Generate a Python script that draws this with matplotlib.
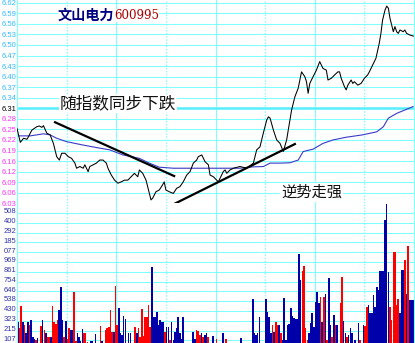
import matplotlib
matplotlib.use('Agg')
import matplotlib.pyplot as plt
from matplotlib.transforms import ScaledTranslation
import numpy as np

plt.rcParams['font.family'] = ['Noto Sans CJK SC', 'DejaVu Sans']

# axis labels (previous close 6.31, one grid step = 0.031 yuan / 107.7 lots)
prev_close = 6.31
price_step = 0.031
price_labels = ['6.62', '6.59', '6.56', '6.53', '6.50', '6.47', '6.43', '6.40', '6.37', '6.34',
                '6.31', '6.28', '6.25', '6.22', '6.19', '6.16', '6.12', '6.09', '6.06', '6.03']
vol_step = 107.7
vol_labels = ['107', '215', '323', '430', '538', '646', '754', '861', '969', '077', '185', '292',
              '400', '508']

# intraday price, minute -> price
price_min = [0, 2, 4, 6, 7, 8, 9, 12, 13.5, 15, 16, 18, 20, 22, 24, 25.6, 27, 29, 31, 33, 35, 36,
             38, 40, 41, 43, 44, 46, 48, 50, 52, 54, 55, 57, 59, 61, 63, 65, 67, 69, 71, 73, 74,
             76, 78, 80, 81, 82, 84, 86, 88, 89, 90, 92, 94.5, 96.5, 98.5, 100.5, 102.6, 104.6,
             106.6, 108.6, 109.6, 111.7, 113.7, 115.7, 116.7, 118.7, 120.7, 121.7, 122.7, 124.7,
             125.8, 126.8, 128.8, 130.8, 134.8, 138.9, 142.9, 144.9, 146.9, 148.9, 151, 152, 153,
             155, 157, 159, 161, 163, 164, 165, 166, 168, 170, 172, 174, 175, 176, 177, 179, 181,
             183, 184, 185, 187, 188, 190, 192, 194, 195, 196, 198, 199, 200, 202, 203, 204, 206,
             208, 210, 212, 213, 215, 217, 219, 220, 221, 222.5, 223.5, 224.5, 225.5, 227.5,
             228.5, 229.5, 230.5, 231.5, 233.5, 234.5, 235.5, 237.6, 239.6]
price_val = [6.251, 6.210, 6.222, 6.219, 6.227, 6.237, 6.246, 6.256, 6.258, 6.254, 6.259, 6.237,
             6.232, 6.207, 6.168, 6.158, 6.178, 6.178, 6.168, 6.163, 6.149, 6.134, 6.139, 6.134,
             6.144, 6.124, 6.139, 6.144, 6.149, 6.158, 6.158, 6.149, 6.134, 6.114, 6.099, 6.090,
             6.094, 6.099, 6.099, 6.109, 6.119, 6.109, 6.129, 6.119, 6.099, 6.060, 6.041, 6.046,
             6.065, 6.070, 6.085, 6.094, 6.070, 6.065, 6.060, 6.075, 6.080, 6.094, 6.114, 6.124,
             6.149, 6.158, 6.168, 6.173, 6.153, 6.144, 6.114, 6.109, 6.099, 6.094, 6.104, 6.124,
             6.129, 6.119, 6.129, 6.134, 6.139, 6.134, 6.149, 6.188, 6.197, 6.237, 6.276, 6.285,
             6.281, 6.246, 6.217, 6.207, 6.183, 6.217, 6.246, 6.276, 6.305, 6.344, 6.369, 6.417,
             6.403, 6.388, 6.354, 6.383, 6.403, 6.422, 6.447, 6.437, 6.427, 6.422, 6.393, 6.398,
             6.408, 6.417, 6.417, 6.398, 6.373, 6.364, 6.378, 6.393, 6.383, 6.388, 6.378, 6.383,
             6.398, 6.408, 6.417, 6.437, 6.457, 6.501, 6.530, 6.569, 6.599, 6.610, 6.604, 6.574,
             6.535, 6.550, 6.535, 6.530, 6.540, 6.535, 6.540, 6.530, 6.525, 6.522]

# average price line
avg_min = [0, 8, 16, 20, 24, 30, 40, 50, 56, 64, 74, 80, 86, 94.5, 104.6, 120.7, 134.8, 142.7,
           149, 153, 159, 165, 170, 173, 179, 185, 191, 199, 209, 217.5, 221.5, 224.5, 229.5,
           234.5, 239.4]
avg_val = [6.229, 6.229, 6.235, 6.232, 6.222, 6.212, 6.202, 6.193, 6.188, 6.173, 6.163, 6.149,
           6.137, 6.134, 6.134, 6.134, 6.134, 6.138, 6.139, 6.149, 6.149, 6.150, 6.158, 6.183,
           6.190, 6.207, 6.217, 6.225, 6.232, 6.241, 6.256, 6.281, 6.295, 6.305, 6.315]

# hand drawn trend lines (minute, price)
trend_down = ([23, 95], [6.269, 6.111])
trend_up = ([95, 168], [6.029, 6.205])

# per-minute volume, r = up, b = down
volume = [312, 243, 484, 312, 276, 191, 312, 276, 330, 147, 122, 111, 130, 60, 265, 330, 221, 188, 147, 147,
          147, 484, 312, 283, 330, 440, 690, 330, 140, 323, 120, 246, 221, 221, 634, 100, 191, 147, 100, 228,
          188, 188, 90, 60, 100, 95, 60, 175, 60, 60, 265, 95, 60, 221, 243, 257, 440, 202, 202, 703,
          276, 465, 188, 170, 374, 338, 80, 191, 190, 70, 70, 257, 188, 243, 147, 448, 155, 367, 360, 495,
          257, 915, 367, 360, 421, 276, 330, 312, 312, 202, 257, 250, 110, 312, 110, 202, 246, 360, 188, 120,
          360, 60, 60, 60, 60, 60, 202, 120, 221, 213, 166, 185, 147, 166, 185, 147, 60, 60, 160, 60,
          119, 60, 60, 60, 185, 60, 119, 60, 60, 60, 60, 60, 60, 60, 60, 130, 60, 60, 60, 60,
          60, 60, 557, 185, 166, 191, 367, 60, 60, 60, 557, 421, 367, 185, 276, 202, 312, 276, 276, 191,
          110, 568, 110, 276, 287, 459, 374, 349, 340, 345, 1054, 769, 871, 923, 239, 110, 185, 294, 404, 257,
          531, 641, 514, 586, 312, 580, 616, 110, 788, 276, 147, 385, 276, 276, 60, 520, 805, 323, 185, 147,
          166, 239, 185, 60, 110, 60, 294, 110, 60, 276, 265, 476, 495, 404, 410, 605, 476, 696, 659, 871,
          871, 871, 1435, 1610, 860, 476, 330, 1080, 1080, 495, 557, 404, 879, 879, 988, 616, 1142, 550, 550, 550]
vol_dir = ('brrbrbbrbbbrbbrbrbrr'
           'brrrrbbbrbrrbbrrbbbb'
           'rrrbbbbbbbrbbrrrrrbr'
           'rbbbbbbbbbbrbrrrrrrr'
           'rbbbbbbbbrbbrbbbbbbb'
           'bbbbbbbbrrrbrbbrbbbb'
           'rbbbbbrbbbbbbbbbbbbb'
           'bbbbbbbbbbbbbbrbrrbr'
           'bbbbbbbbbbbbrrrrbbbb'
           'bbbrbrbrbbrbrbbrrbbr'
           'bbbbbbbrbbrrbbbbbbbb'
           'bbbbbrrrrrrbbbrbrbbb')

grid_c = '#80ffff'
W, H = 415, 343
fig = plt.figure(figsize=(W / 100, H / 100), dpi=100)
x0, x1 = 17, 414
split = 203.3
ax = fig.add_axes([x0 / W, (H - split) / H, (x1 - x0) / W, split / H])
vax = fig.add_axes([x0 / W, 0, (x1 - x0) / W, (H - split) / H])

price_ticks = prev_close + price_step * np.arange(10, -10, -1)
vol_ticks = vol_step * np.arange(1, 15)

for a in (ax, vax):
    a.set_xlim(0, 240)
    a.set_xticks([])
    for s in ('top', 'bottom'):
        a.spines[s].set_visible(False)
    for s in ('left', 'right'):
        a.spines[s].set_color(grid_c)
        a.spines[s].set_linewidth(0.8)
    for m in (60, 120, 180):
        a.axvline(m, color=grid_c, lw=0.75, zorder=0)
    for m in (30, 90, 150, 210):
        a.axvline(m, color=grid_c, lw=0.75, ls=(0, (1.5, 1.5)), zorder=0)
    a.tick_params(axis='y', length=0, pad=0.6, labelsize=5.5)

ax.set_ylim(6.031, 6.628)
ax.set_yticks(price_ticks)
ax.set_yticklabels(price_labels, family='Liberation Sans')
for t, lab in zip(ax.get_yticklabels(), price_labels):
    v = float(lab)
    t.set_color('#000000' if v == prev_close else ('#33bbff' if v > prev_close else '#ff33ff'))
for p in price_ticks:
    if abs(p - prev_close) < 1e-6:
        ax.axhline(p, color='#55eeff', lw=1.8, zorder=0)
    else:
        ax.axhline(p, color=grid_c, lw=0.75, zorder=0, clip_on=False)

vax.set_ylim(78, 15 * vol_step)
vax.set_yticks(vol_ticks)
vax.set_yticklabels(vol_labels, family='Liberation Sans', color='#3333aa')
# volume labels sit a little above their lines
lift = ScaledTranslation(0, 1.6 / 72, fig.dpi_scale_trans)
for t in vax.get_yticklabels():
    t.set_transform(t.get_transform() + lift)
for v in vol_ticks:
    vax.axhline(v, color=grid_c, lw=0.75, zorder=0)

ax.plot(avg_min, avg_val, color='#3a3ac8', lw=0.8, zorder=2)
ax.plot(price_min, price_val, color='#000000', lw=0.75, zorder=3)
ax.plot(*trend_down, color='#000000', lw=1.6, zorder=4, clip_on=False)
ax.plot(*trend_up, color='#000000', lw=1.6, zorder=4, clip_on=False)

colors = ['#ff0000' if c == 'r' else '#0000aa' for c in vol_dir]
vax.bar(np.arange(len(volume)) + 0.5, volume, width=0.95, color=colors, zorder=2)

# title and notes
fig.text(58 / W, 1 - 15.5 / H, '文山电力', fontsize=10.2, color='#000080', fontweight='bold',
         va='center', ha='left', bbox=dict(fc='white', ec='none', pad=0))
fig.text(114 / W, 1 - 15.5 / H, '600995', fontsize=8.6, color='#aa0000', family='DejaVu Serif',
         va='center', ha='left', bbox=dict(fc='white', ec='none', pad=0))
fig.text(60 / W, 1 - 103.5 / H, '随指数同步下跌', fontsize=12, color='#111111',
         va='center', ha='left', bbox=dict(fc='white', ec='none', pad=0.5))
fig.text(281 / W, 1 - 192.5 / H, '逆势走强', fontsize=11, color='#111111',
         va='center', ha='left', bbox=dict(fc='white', ec='none', pad=0.5))

fig.savefig('out.png', dpi=100, facecolor='white')
